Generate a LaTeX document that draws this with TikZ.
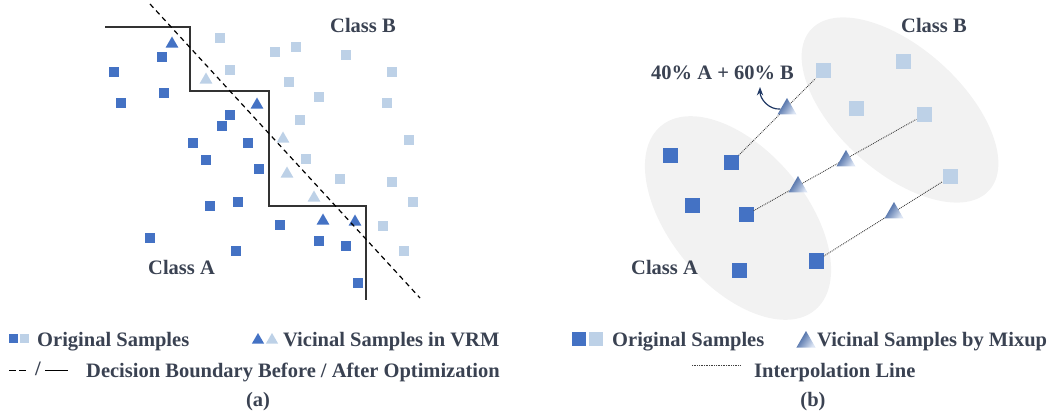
\documentclass[tikz,border=0pt]{standalone}
\usepackage{fontspec}
\setmainfont{Liberation Serif}
\usetikzlibrary{arrows.meta,shapes.geometric}
\definecolor{dkblue}{HTML}{4472C4}\definecolor{ltblue}{HTML}{BDD1E7}
\definecolor{txtgrey}{HTML}{3A4252}\definecolor{blobgrey}{HTML}{F2F2F2}
\definecolor{tridark}{HTML}{2F5597}\definecolor{trilight}{HTML}{DCE5F4}
\definecolor{arrnavy}{HTML}{203864}
\tikzset{lbl/.style={font=\fontsize{20.5}{22}\selectfont\bfseries,text=txtgrey,inner sep=0pt},
dsq/.style={fill=dkblue,minimum size=10pt,inner sep=0pt},lsq/.style={dsq,fill=ltblue},
dtri/.style={regular polygon,regular polygon sides=3,fill=dkblue,minimum size=15pt,inner sep=0pt},ltri/.style={dtri,fill=ltblue},
mixtri/.style={regular polygon,regular polygon sides=3,minimum size=22pt,inner sep=0pt,top color=tridark,middle color=dkblue,bottom color=trilight,shading angle=55},
interp/.style={densely dotted,line width=0.9pt,draw=black!75}}

\begin{document}
\begin{tikzpicture}[x=1pt,y=-1pt,>={Stealth}]
\useasboundingbox (0,0) rectangle (1063,414);
% (a) VRM
\foreach \x/\y [count=\i] in {162/57,114/72,164/93,121/103,230/115,222/126,193/143,248/143,206/160,259/169,210/206,238/202,280/225,150/238,236/251,319/241,346/246,358/283}
  \node[dsq] (ad\i) at (\x,\y) {};
\foreach \x/\y [count=\i] in {220/38,275/52,296/47,346/55,230/70,289/82,392/72,319/97,387/103,300/120,409/140,306/159,340/179,392/182,413/202,383/226,404/251}
  \node[lsq] (al\i) at (\x,\y) {};
\foreach \x/\y [count=\i] in {172/44,257/105,323/221,355/222} \node[dtri] (at\i) at (\x,\y) {};
\foreach \x/\y [count=\i] in {206/80,283/139,287/174,314/198} \node[ltri] (av\i) at (\x,\y) {};
\draw[line width=1.4pt,black!80] (105,27)--(190,27)--(190,91)--(269,91)--(269,206)--(366,206)--(366,300);
\draw[line width=1.2pt,dash pattern=on 5pt off 4pt] (150,4)--(420,298);
\node[lbl,anchor=base west] (clsb) at (330,33) {Class B};\node[lbl,anchor=base west] (clsa) at (148,274) {Class A};
% legend (a)
\node[dsq,minimum size=9pt] (kd) at (13.5,338) {};\node[lsq,minimum size=9pt] (kl) at (24.5,338) {};
\node[lbl,anchor=base west] (ko) at (37,346) {Original Samples};
\node[dtri,minimum size=14pt] (kt) at (258,340) {};\node[ltri,minimum size=14pt] (kv) at (272,340) {};
\node[lbl,anchor=base west] (kvs) at (283,346) {Vicinal Samples in VRM};
\coordinate (kb1) at (9,370);\coordinate (kb2) at (28,370);\coordinate (ka1) at (45,370);\coordinate (ka2) at (68,370);
\draw[line width=1pt,dash pattern=on 7pt off 3pt] (kb1)--(kb2);\draw[line width=1pt] (ka1)--(ka2);
\node[lbl] (ksl) at (38,369) {/};
\node[lbl,anchor=base west] (kdb) at (86,377) {Decision Boundary Before / After Optimization};
\node[lbl,anchor=base] (capa) at (258,406) {(a)};
% (b) Mixup
\fill[blobgrey,rotate around={-42:(900,110)}] (900,110) ellipse [x radius=120,y radius=62];
\fill[blobgrey,rotate around={-50:(738,218)}] (738,218) ellipse [x radius=120,y radius=68];
\foreach \x/\y [count=\i] in {670/156,731/163,692/206,746/215,739/270,816/261}
  \node[dsq,minimum size=15pt] (bd\i) at (\x,\y) {};
\foreach \x/\y [count=\i] in {823/71,903/62,856/109,924/115,950/177}
  \node[lsq,minimum size=15pt] (bl\i) at (\x,\y) {};
\draw[interp] (bd2)--(bl1);\draw[interp] (bd4)--(bl4);\draw[interp] (bd6)--(bl5);
\foreach \x/\y [count=\i] in {787/109,846/161,798/187,894/213} \node[mixtri] (m\i) at (\x,\y) {};
\node[lbl,anchor=base west] (mix) at (651,80) {40\% A + 60\% B};
\coordinate (mixtip) at (760,87);
\draw[->,arrnavy,line width=1.2pt] (m1.west) to[out=185,in=-90] (mixtip);
\node[lbl,anchor=base west] (bclsb) at (901,33) {Class B};\node[lbl,anchor=base west] (bclsa) at (631,274) {Class A};
% legend (b)
\node[dsq,minimum size=14pt] (nd) at (579,339) {};\node[lsq,minimum size=14pt] (nl) at (596,339) {};
\node[lbl,anchor=base west] (no) at (612,346) {Original Samples};
\node[mixtri,minimum size=22pt] (nm) at (806,342) {};
\node[lbl,anchor=base west] (nms) at (817,346) {Vicinal Samples by Mixup};
\coordinate (ni1) at (692,365);\coordinate (ni2) at (740,365);
\draw[interp,line width=0.7pt] (ni1)--(ni2);
\node[lbl,anchor=base west] (nil) at (754,377) {Interpolation Line};
\node[lbl,anchor=base] (capb) at (813,406) {(b)};
\end{tikzpicture}
\end{document}
